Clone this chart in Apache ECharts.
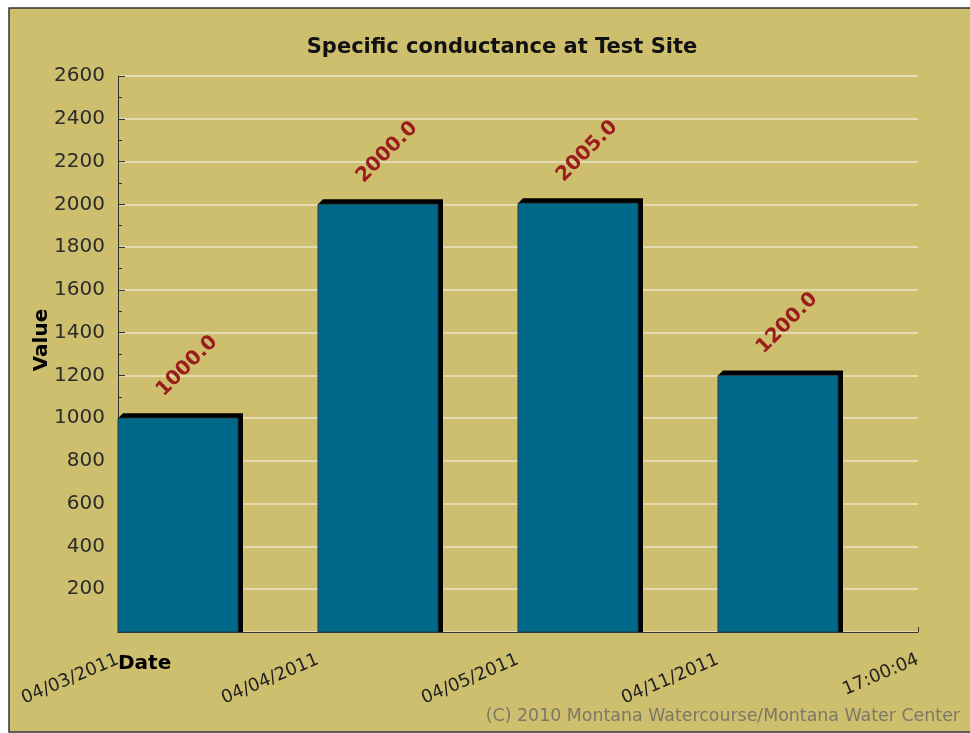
<!DOCTYPE html>
<html>
<head>
<meta charset="utf-8">
<title>Specific conductance at Test Site</title>
<script src="https://cdn.jsdelivr.net/npm/echarts@6/dist/echarts.min.js"></script>
<style>
    html, body { margin: 0; padding: 0; background: #fff; }
    #echarts { width: 970px; height: 733px; }
</style>
</head>
<body>
<div id="echarts"></div>
<script>
// 数据
var xLabels = ['04/03/2011', '04/04/2011', '04/05/2011', '04/11/2011', '17:00:04'];
var barValues = [1000.0, 2000.0, 2005.0, 1200.0];
var yTicks = [0, 200, 400, 600, 800, 1000, 1200, 1400, 1600, 1800, 2000, 2200, 2400, 2600];

var FONT = 'DejaVu Sans';
var BAR_FRAC = 0.6;   // 柱宽占一个日期间隔的比例
var DEPTH = 5;        // 黑色立体边

var seriesData = [];
for (var i = 0; i < barValues.length; i++) {
    seriesData.push([i, barValues[i]]);
}

// 画柱子 (带黑色立体边和斜着的数值)
function renderBar(params, api) {
    var idx = api.value(0);
    var val = api.value(1);
    var p0 = api.coord([idx, val]);
    var p1 = api.coord([idx + BAR_FRAC, 0]);
    var x0 = p0[0], y0 = p0[1], x1 = p1[0], yb = p1[1];
    var cx = (x0 + x1) / 2;
    return {
        type: 'group',
        children: [
            {
                type: 'polygon',
                shape: {
                    points: [[x0, y0], [x0 + DEPTH, y0 - DEPTH], [x1 + DEPTH, y0 - DEPTH],
                             [x1 + DEPTH, yb], [x1, yb], [x1, y0]]
                },
                style: { fill: '#000' }
            },
            {
                type: 'rect',
                shape: { x: x0, y: y0, width: x1 - x0, height: yb - y0 },
                style: { fill: '#00698A', stroke: '#1d3f48', lineWidth: 1 }
            },
            {
                type: 'text',
                x: cx + 9,
                y: y0 - 52,
                rotation: Math.PI / 4,
                style: {
                    text: val.toFixed(1),
                    fill: '#9a1c1c',
                    font: 'bold 20px ' + FONT,
                    align: 'center',
                    verticalAlign: 'middle'
                }
            }
        ]
    };
}

var myChart = echarts.init(document.getElementById('echarts'));
var option = {
    backgroundColor: '#fff',
    animation: false,
    title: {
        text: 'Specific conductance at Test Site',
        left: 497,
        top: 32,
        textAlign: 'center',
        textStyle: { fontFamily: FONT, fontSize: 21, fontWeight: 'bold', color: '#111' }
    },
    graphic: [
        { // 底色和边框
            type: 'rect',
            z: -10,
            shape: { x: 9, y: 8, width: 990, height: 724 },
            style: { fill: '#CEBF6F', stroke: '#333', lineWidth: 1.5 }
        },
        {
            type: 'text',
            left: 118,
            top: 654,
            style: { text: 'Date', font: 'bold 20px ' + FONT, fill: '#000' }
        },
        {
            type: 'text',
            x: 42,
            y: 340,
            rotation: Math.PI / 2,
            style: { text: 'Value', font: 'bold 20px ' + FONT, fill: '#000',
                     align: 'center', verticalAlign: 'middle' }
        },
        {
            type: 'text',
            right: 10,
            top: 708,
            style: { text: '(C) 2010 Montana Watercourse/Montana Water Center',
                     font: '17.4px ' + FONT, fill: '#7c7866' }
        }
    ],
    grid: {
        left: 118,
        right: 52,
        top: 76,
        bottom: 101
    },
    xAxis: {
        type: 'value',
        min: 0,
        max: xLabels.length - 1,
        interval: 1,
        splitLine: { show: false },
        axisLine: { lineStyle: { color: '#333', width: 1 } },
        axisTick: { inside: true, length: 5, lineStyle: { color: '#333' } },
        axisLabel: {
            rotate: 23,
            margin: 27,
            fontFamily: FONT,
            fontSize: 18,
            color: '#222',
            showMinLabel: true,
            showMaxLabel: true,
            formatter: function(v) { return xLabels[Math.round(v)]; }
        }
    },
    yAxis: {
        type: 'value',
        min: yTicks[0],
        max: yTicks[yTicks.length - 1],
        interval: yTicks[1] - yTicks[0],
        axisLine: { show: true, lineStyle: { color: '#333', width: 1 } },
        axisTick: { show: true, inside: true, length: 7, lineStyle: { color: '#333' } },
        minorTick: { show: true, splitNumber: 2, length: 4, lineStyle: { color: '#333' } },
        axisLabel: {
            margin: 13,
            fontFamily: FONT,
            fontSize: 20,
            color: '#2b2b2b',
            formatter: function(v) { return v === 0 ? '' : String(v); }
        },
        splitLine: { lineStyle: { color: '#e3dcb2', width: 2 } }
    },
    series: [
        {
            type: 'custom',
            renderItem: renderBar,
            encode: { x: 0, y: 1 },
            data: seriesData,
            z: 5
        }
    ]
};
myChart.setOption(option, true);
</script>
</body>
</html>
